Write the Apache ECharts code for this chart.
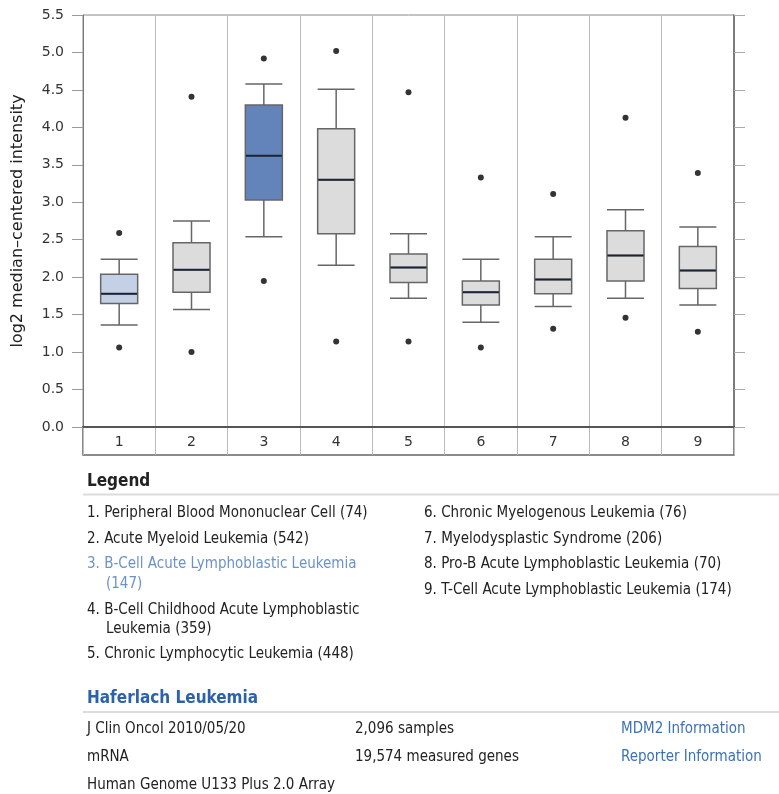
<!DOCTYPE html>
<html>
<head>
<meta charset="utf-8">
<script src="https://cdn.jsdelivr.net/npm/echarts@6/dist/echarts.min.js"></script>
<style>
html,body{margin:0;padding:0;background:#fff;}
#main{width:779px;height:794px;}
</style>
</head>
<body>
<div id="main"></div>
<script>
// ---- data ----
const categories = ['1','2','3','4','5','6','7','8','9'];
const whiskerLow  = [1.36, 1.57, 2.54, 2.16, 1.72, 1.40, 1.61, 1.72, 1.63];
const q1          = [1.65, 1.80, 3.03, 2.58, 1.93, 1.63, 1.78, 1.95, 1.85];
const median      = [1.78, 2.10, 3.62, 3.30, 2.13, 1.80, 1.97, 2.29, 2.09];
const q3          = [2.04, 2.46, 4.30, 3.98, 2.31, 1.95, 2.24, 2.62, 2.41];
const whiskerHigh = [2.24, 2.75, 4.58, 4.51, 2.58, 2.24, 2.54, 2.90, 2.67];
const outlierHigh = [2.59, 4.41, 4.92, 5.02, 4.47, 3.33, 3.11, 4.13, 3.39];
const outlierLow  = [1.06, 1.00, 1.95, 1.14, 1.14, 1.06, 1.31, 1.46, 1.27];
const yTicks = [0,0.5,1,1.5,2,2.5,3,3.5,4,4.5,5,5.5];
const yAxisTitle = 'log2 median\u2013centered intensity';

const legendLeft = [
  ['1. Peripheral Blood Mononuclear Cell (74)'],
  ['2. Acute Myeloid Leukemia (542)'],
  ['3. B-Cell Acute Lymphoblastic Leukemia', '(147)'],
  ['4. B-Cell Childhood Acute Lymphoblastic', 'Leukemia (359)'],
  ['5. Chronic Lymphocytic Leukemia (448)']
];
const legendRight = [
  '6. Chronic Myelogenous Leukemia (76)',
  '7. Myelodysplastic Syndrome (206)',
  '8. Pro-B Acute Lymphoblastic Leukemia (70)',
  '9. T-Cell Acute Lymphoblastic Leukemia (174)'
];
const datasetTitle = 'Haferlach Leukemia';
const infoCol1 = ['J Clin Oncol 2010/05/20', 'mRNA', 'Human Genome U133 Plus 2.0 Array'];
const infoCol2 = ['2,096 samples', '19,574 measured genes'];
const infoCol3 = ['MDM2 Information', 'Reporter Information'];

// ---- styles ----
const highlightIndex = 2;   // selected category (dark blue)
const referenceIndex = 0;   // light blue
const FONT = '"DejaVu Sans Condensed","DejaVu Sans",sans-serif';

function boxFill(i){
  if (i === highlightIndex) return '#6384bb';
  if (i === referenceIndex) return '#c3d0e6';
  return '#dcdcdc';
}

const boxData = categories.map((c,i)=>({
  value:[whiskerLow[i], q1[i], median[i], q3[i], whiskerHigh[i]],
  itemStyle:{color: boxFill(i), borderColor:'#666', borderWidth:1.5}
}));
const outlierData = [];
categories.forEach((c,i)=>{ outlierData.push([i, outlierHigh[i]]); outlierData.push([i, outlierLow[i]]); });
const medianData = categories.map((c,i)=>[i, median[i]]);

const chart = echarts.init(document.getElementById('main'), null, {renderer:'canvas'});

const graphics = [];
function txt(x,y,s,opt){
  graphics.push({type:'text', silent:true, style:Object.assign({
    text:s, x:x, y:y, fill:'#222', font:'15px '+FONT, verticalAlign:'middle', align:'left'
  }, opt||{})});
}
function hline(y,x1,x2,color,w){
  graphics.push({type:'line', silent:true, shape:{x1:x1,y1:y,x2:x2,y2:y}, style:{stroke:color, lineWidth:w}});
}
// Legend block
txt(87, 482, 'Legend', {font:'bold 17px '+FONT, fill:'#222'});
hline(494.5, 83, 779, '#dcdcdc', 2);
const leftRows = [[513],[539],[564,584],[610,629],[654]];
legendLeft.forEach((lines,i)=>{
  lines.forEach((l,j)=>{
    const x = j===0 ? 87 : 106;
    txt(x, leftRows[i][j], l, {fill: i===highlightIndex ? '#6b93c9' : '#222'});
  });
});
const rightRows = [513,539,564,590];
legendRight.forEach((l,i)=> txt(424, rightRows[i], l));

// Dataset info block
txt(87, 699, datasetTitle, {font:'bold 17px '+FONT, fill:'#2b63ab'});
hline(712, 83, 779, '#dcdcdc', 2);
const infoRows = [729, 757, 785];
infoCol1.forEach((l,i)=> txt(87, infoRows[i], l));
infoCol2.forEach((l,i)=> txt(355, infoRows[i], l));
infoCol3.forEach((l,i)=> txt(621, infoRows[i], l, {fill:'#3a72b8'}));

const option = {
  backgroundColor:'#fff',
  animation:false,
  grid:[
    {left:83, top:15, width:651, height:412, show:true, borderColor:'#888', borderWidth:1, backgroundColor:'transparent'},
    {left:83, top:427, width:651, height:28, show:true, borderColor:'#666', borderWidth:1.5, backgroundColor:'transparent'}
  ],
  xAxis:[
    {type:'category', gridIndex:0, data:categories, boundaryGap:true,
     axisLine:{show:true, lineStyle:{color:'#555', width:2}},
     axisTick:{show:false}, axisLabel:{show:false},
     splitLine:{show:true, lineStyle:{color:'#bbb', width:1}}},
    {type:'category', gridIndex:1, data:categories, boundaryGap:true, position:'top',
     axisLine:{show:false}, axisTick:{show:false},
     axisLabel:{show:true, inside:true, margin:8, color:'#333', fontSize:14, fontFamily:'DejaVu Sans'},
     splitLine:{show:true, lineStyle:{color:'#bbb', width:1}}}
  ],
  yAxis:[
    {type:'value', gridIndex:0, min:0, max:5.5, interval:0.5,
     name:yAxisTitle, nameLocation:'middle', nameGap:57, nameRotate:90,
     nameTextStyle:{color:'#222', fontSize:16, fontFamily:'DejaVu Sans'},
     axisLine:{show:true, lineStyle:{color:'#777', width:1}},
     axisTick:{show:true, length:11, lineStyle:{color:'#999'}},
     axisLabel:{show:true, margin:19, color:'#333', fontSize:14, fontFamily:'DejaVu Sans',
       formatter:v=>yTicks.indexOf(v)>=0 ? v.toFixed(1) : ''},
     splitLine:{show:false}},
    {type:'value', gridIndex:0, position:'right', min:0, max:5.5, interval:0.5,
     axisLine:{show:true, lineStyle:{color:'#666', width:1.5}},
     axisTick:{show:true, length:11, lineStyle:{color:'#aaa'}},
     axisLabel:{show:false}, splitLine:{show:false}},
    {type:'value', gridIndex:1, show:false, min:0, max:1}
  ],
  series:[
    {type:'boxplot', xAxisIndex:0, yAxisIndex:0, boxWidth:[37,37], data:boxData,
     itemStyle:{borderColor:'#666', borderWidth:1.5}},
    {type:'custom', xAxisIndex:0, yAxisIndex:0, data:medianData, z:5,
     renderItem:function(params, api){
       const p = api.coord([api.value(0), api.value(1)]);
       return {type:'line', shape:{x1:p[0]-18, y1:p[1], x2:p[0]+18, y2:p[1]},
               style:{stroke:'#1b2434', lineWidth:2}};
     }},
    {type:'scatter', xAxisIndex:0, yAxisIndex:0, data:outlierData, symbol:'circle', symbolSize:6,
     itemStyle:{color:'#000'}, z:6}
  ],
  graphic: graphics
};
chart.setOption(option);
</script>
</body>
</html>
